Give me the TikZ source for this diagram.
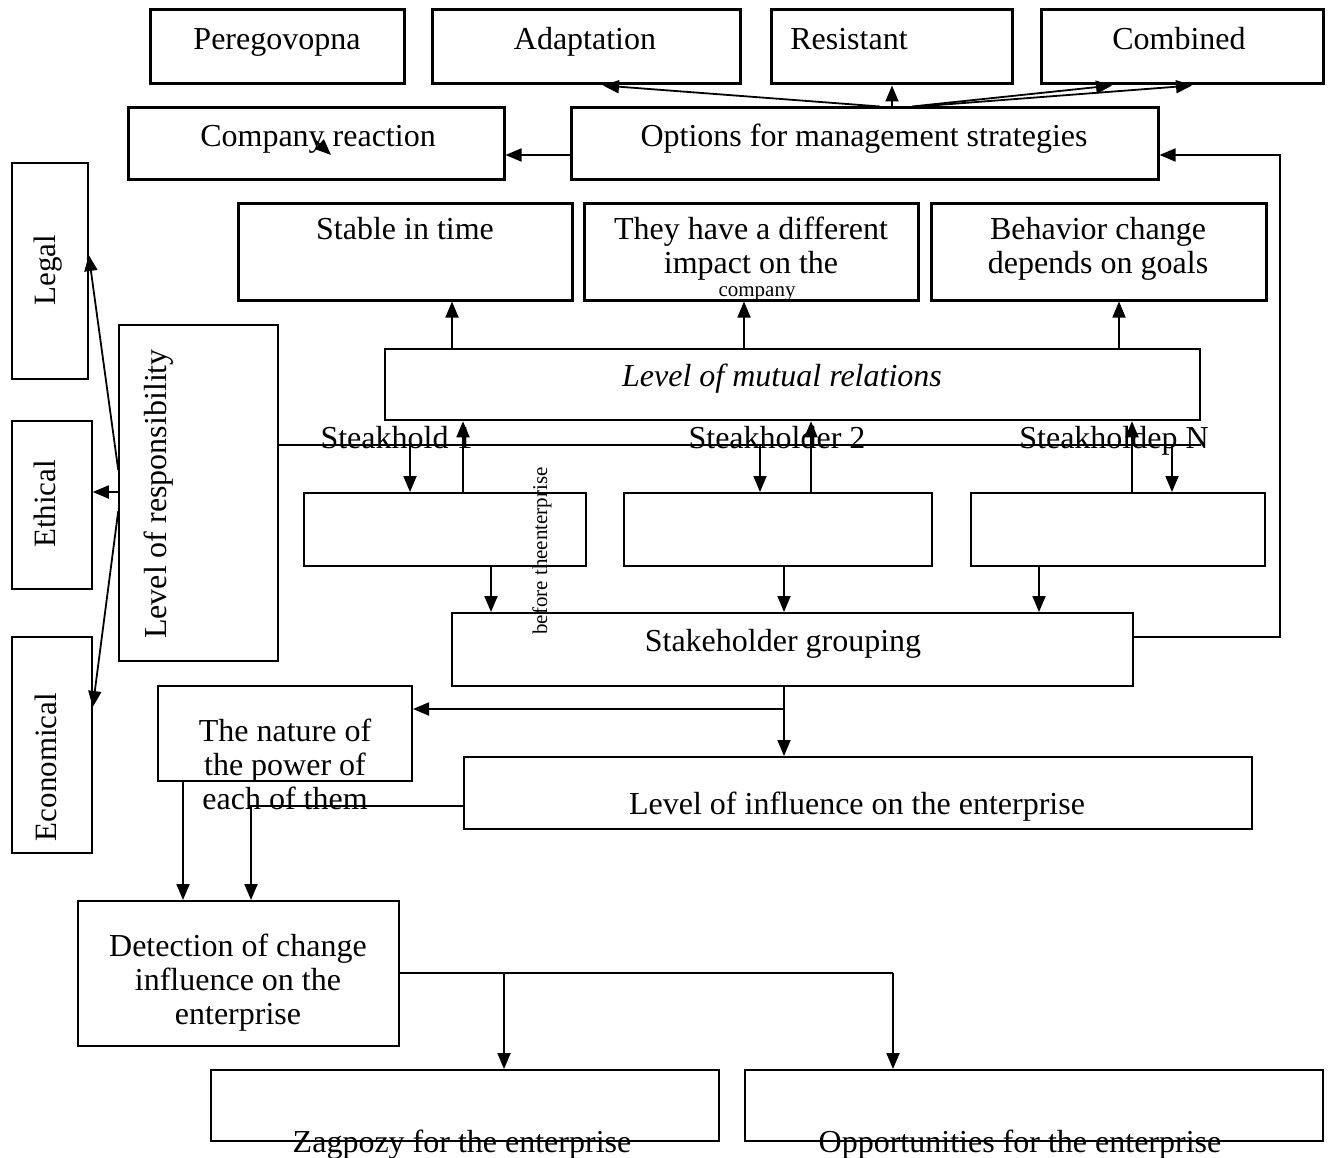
\documentclass[tikz,border=0pt]{standalone}
\usepackage{fontspec}
\setmainfont{Liberation Serif}
\usetikzlibrary{arrows.meta,calc}
\begin{document}
\begin{tikzpicture}[x=1pt,y=-1pt,
  bx/.style={draw, rectangle, inner sep=0pt, line width=2pt},
  bxt/.style={bx, line width=3pt},
  bxn/.style={bx, line width=1.5pt},
  tx/.style={font=\fontsize{32}{34}\selectfont, inner sep=0pt, anchor=base},
  txm/.style={font=\fontsize{32}{34}\selectfont, inner sep=0pt, anchor=north, align=center},
  txs/.style={font=\fontsize{21}{23}\selectfont, inner sep=0pt, anchor=base},
  txr/.style={font=\fontsize{31}{34}\selectfont, inner sep=0pt, anchor=base, rotate=90},
  con/.style={line width=1.8pt},
  arr/.style={con, -{Triangle[length=16pt,width=13pt]}},
]
\fill[white] (0,0) rectangle (1330,1158);
\useasboundingbox (0,0) rectangle (1330,1158);

% ---------- boxes ----------
\node[bxt, minimum width=254pt, minimum height=74pt] (pere) at (277,47) {};
\node[bxt, minimum width=308pt, minimum height=74pt] (adap) at (586,47) {};
\node[bxt, minimum width=241pt, minimum height=74pt] (resi) at (891.5,47) {};
\node[bxt, minimum width=282pt, minimum height=74pt] (comb) at (1182,47) {};
\node[bxt, minimum width=376pt, minimum height=72pt] (crea) at (316,144) {};
\node[bxt, minimum width=587pt, minimum height=72pt] (opts) at (864.5,144) {};
\node[bxt, minimum width=334pt, minimum height=96pt] (stab) at (405,252) {};
\node[bxt, minimum width=334pt, minimum height=96pt] (diff) at (751,252) {};
\node[bxt, minimum width=335pt, minimum height=96pt] (behv) at (1098.5,252) {};
\node[bx, line width=2.5pt, minimum width=815pt, minimum height=71pt] (lmr) at (792.5,384.5) {};
\node[bxn, minimum width=76pt, minimum height=216pt] (legal) at (50,271) {};
\node[bxn, minimum width=80pt, minimum height=168pt] (ethic) at (52,505) {};
\node[bxn, minimum width=80pt, minimum height=216pt] (econ) at (52,745) {};
\node[bxn, minimum width=159pt, minimum height=336pt] (lor) at (198.5,493) {};
\node[bx, minimum width=282pt, minimum height=73pt] (sh1) at (445,529.5) {};
\node[bx, minimum width=308pt, minimum height=73pt] (sh2) at (778,529.5) {};
\node[bx, minimum width=294pt, minimum height=73pt] (shn) at (1118,529.5) {};
\node[bx, minimum width=681pt, minimum height=73pt] (grp) at (792.5,649.5) {};
\node[bx, minimum width=254pt, minimum height=95pt] (nat) at (285,733.5) {};
\node[bx, minimum width=788pt, minimum height=72pt] (inf) at (858,793) {};
\node[bx, minimum width=321pt, minimum height=145pt] (det) at (238.5,973.5) {};
\node[bx, minimum width=508pt, minimum height=71pt] (zag) at (465,1105.5) {};
\node[bx, minimum width=578pt, minimum height=71pt] (opp) at (1034,1105.5) {};

% ---------- texts ----------
\node[tx] (pere-t) at (277,50) {Peregovopna};
\node[tx] (adap-t) at (585,50) {Adaptation};
\node[tx] (resi-t) at (849,50) {Resistant};
\node[tx] (comb-t) at (1179,50) {Combined};
\node[tx] (crea-t) at (318,147) {Company reaction};
\node[tx] (opts-t) at (864,147) {Options for management strategies};
\node[tx] (stab-t) at (405,240) {Stable in time};
\node[txm] (diff-t) at (751,217) {They have a different\\impact on the};
\node[txs] (diff-s) at (757,296) {company};
\node[txm] (behv-t) at (1098,217) {Behavior change\\depends on goals};
\node[tx, font=\fontsize{32}{34}\itshape] (lmr-t) at (782,386) {Level of mutual relations};
\node[tx] (s1-t) at (396.5,448) {Steakhold 1};
\node[tx] (s2-t) at (777,448) {Steakholder 2};
\node[tx] (sn-t) at (1114,448) {Steakholdep N};
\node[tx] (grp-t) at (783,651) {Stakeholder grouping};
\node[txm] (nat-t) at (285,719) {The nature of\\the power of\\each of them};
\node[tx] (inf-t) at (857,814) {Level of influence on the enterprise};
\node[txm] (det-t) at (238,934) {Detection of change\\influence on the\\enterprise};
\node[tx] (zag-t) at (462,1152) {Zagpozy for the enterprise};
\node[tx] (opp-t) at (1020,1152) {Opportunities for the enterprise};
\node[txr] (legal-t) at (55,270) {Legal};
\node[txr] (ethic-t) at (55.5,504) {Ethical};
\node[txr] (econ-t) at (56,767) {Economical};
\node[txr, font=\fontsize{32}{34}\selectfont] (lor-t) at (166,494) {Level of responsibility};
\node[txs, rotate=90] (bef-t) at (547,551) {before theenterprise};

% ---------- connectors ----------
\draw[arr] (880,0 |- opts.north) -- (603,0 |- adap.south);
\draw[arr] (892,0 |- opts.north) -- (892,0 |- resi.south);
\draw[arr] (912,0 |- opts.north) -- (1112,0 |- comb.south);
\draw[arr] (918,0 |- opts.north) -- (1192,0 |- comb.south);
\draw[arr] (opts.west |- 0,155) -- (crea.east |- 0,155);
\coordinate (st1) at (316,141);
\coordinate (st2) at (331,155);
\draw[arr] (st1) -- (st2);
\draw[arr] (grp.east |- 0,637) -- (1280,637) |- (opts.east |- 0,155);

\draw[arr] (452,0 |- lmr.north) -- (452,0 |- stab.south);
\draw[arr] (744,0 |- lmr.north) -- (744,0 |- diff.south);
\draw[arr] (1119,0 |- lmr.north) -- (1119,0 |- behv.south);

\draw[arr] (lor.west |- 0,470) -- (legal.east |- 0,255);
\draw[arr] (lor.west |- 0,492) -- (ethic.east |- 0,492);
\draw[arr] (lor.west |- 0,511) -- (econ.east |- 0,707);

\draw[con] (lor.east |- 0,445) -- (lmr.east |- 0,445);
\draw[arr] (410,445) -- (410,0 |- sh1.north);
\draw[arr] (463,0 |- sh1.north) -- (463,0 |- lmr.south);
\draw[arr] (760,445) -- (760,0 |- sh2.north);
\draw[arr] (811,0 |- sh2.north) -- (811,0 |- lmr.south);
\draw[arr] (1132,0 |- shn.north) -- (1132,0 |- lmr.south);
\draw[arr] (1172,445) -- (1172,0 |- shn.north);

\draw[arr] (491,0 |- sh1.south) -- (491,0 |- grp.north);
\draw[arr] (784,0 |- sh2.south) -- (784,0 |- grp.north);
\draw[arr] (1039,0 |- shn.south) -- (1039,0 |- grp.north);

\coordinate (j1) at (784,709);
\draw[con] (784,0 |- grp.south) -- (j1);
\draw[arr] (j1) -- (nat.east |- j1);
\draw[arr] (j1) -- (784,0 |- inf.north);

\draw[arr] (inf.west |- 0,806) -- (251,806) -- (251,0 |- det.north);
\draw[arr] (183,0 |- nat.south) -- (183,0 |- det.north);

\coordinate (j2) at (893,973);
\draw[con] (det.east |- j2) -- (j2);
\draw[arr] (504,973) -- (504,0 |- zag.north);
\draw[arr] (j2) -- (893,0 |- opp.north);
\end{tikzpicture}
\end{document}
